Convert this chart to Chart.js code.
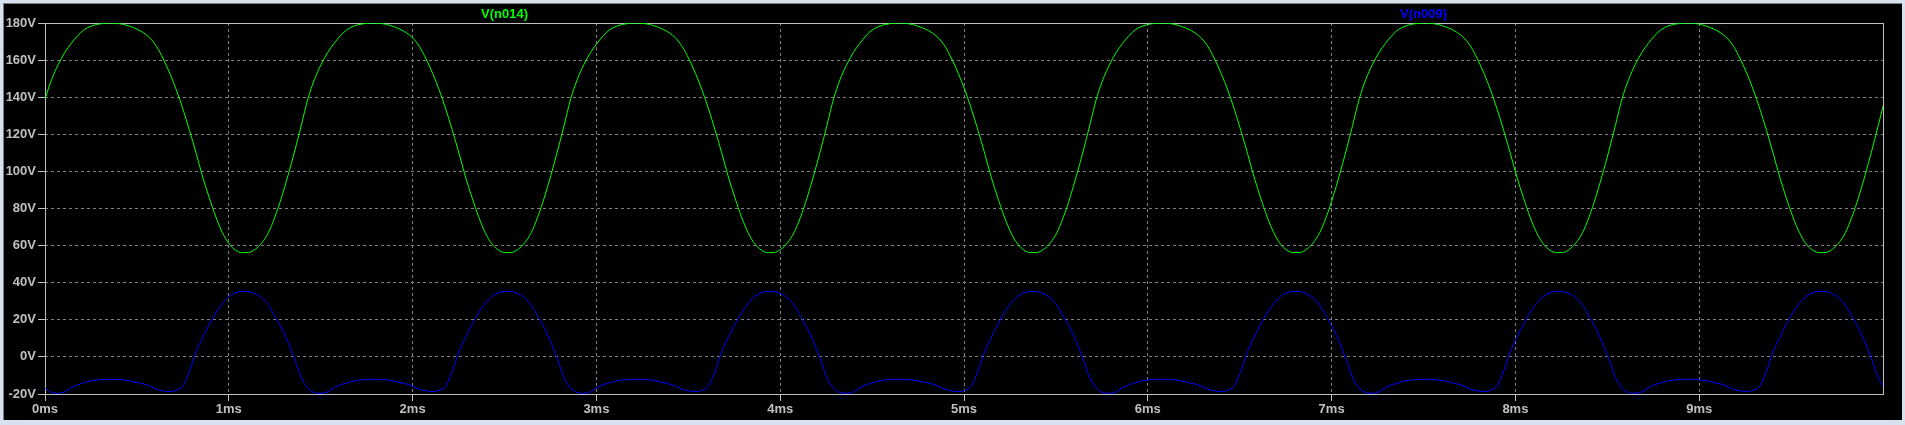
<!DOCTYPE html>
<html>
<head>
<meta charset="utf-8">
<script src="https://cdn.jsdelivr.net/npm/chart.js@4/dist/chart.umd.min.js"></script>
<style>
  html, body { margin: 0; padding: 0; background: #d8e2ee; width: 1905px; height: 425px; overflow: hidden; }
  #frame { position: absolute; left: 3px; top: 3px; width: 1898px; height: 416px; background: #000; border-top: 1px solid #7f7f7f; border-left: 1px solid #7f7f7f; }
  canvas { display: block; }
</style>
</head>
<body>
<div id="frame"><canvas id="c" width="1898" height="416"></canvas></div>
<script>
// Sampling step of the traces (ms); samples start at 0 ms
const sampleStepMs = 0.03575;

// Trace names and colours
const traceNames = ["V(n014)", "V(n009)"];
const traceColors = ["#00ff00", "#0000ff"];

// V(n014) in volts
const greenV = [
  139.0, 149.5, 157.5, 164.0, 169.0, 173.3, 176.5, 178.3, 179.3, 179.8,
  180, 179.8, 179.2, 178.1, 176.7, 174.7, 171.8, 167.2, 160.6, 152.8, 143.8, 133.5, 122.0, 109.8, 97.0, 85.8, 75.5, 67.0, 61.0, 57.6,
  56.2, 56.3, 58.0, 61.5, 67.0, 75.5, 86.0, 98.0, 111.0, 124.8, 139.0, 149.5, 157.5, 164.0, 169.0, 173.3, 176.5, 178.3, 179.3, 179.8,
  180, 179.8, 179.2, 178.1, 176.7, 174.7, 171.8, 167.2, 160.6, 152.8, 143.8, 133.5, 122.0, 109.8, 97.0, 85.8, 75.5, 67.0, 61.0, 57.6,
  56.2, 56.3, 58.0, 61.5, 67.0, 75.5, 86.0, 98.0, 111.0, 124.8, 139.0, 149.5, 157.5, 164.0, 169.0, 173.3, 176.5, 178.3, 179.3, 179.8,
  180, 179.8, 179.2, 178.1, 176.7, 174.7, 171.8, 167.2, 160.6, 152.8, 143.8, 133.5, 122.0, 109.8, 97.0, 85.8, 75.5, 67.0, 61.0, 57.6,
  56.2, 56.3, 58.0, 61.5, 67.0, 75.5, 86.0, 98.0, 111.0, 124.8, 139.0, 149.5, 157.5, 164.0, 169.0, 173.3, 176.5, 178.3, 179.3, 179.8,
  180, 179.8, 179.2, 178.1, 176.7, 174.7, 171.8, 167.2, 160.6, 152.8, 143.8, 133.5, 122.0, 109.8, 97.0, 85.8, 75.5, 67.0, 61.0, 57.6,
  56.2, 56.3, 58.0, 61.5, 67.0, 75.5, 86.0, 98.0, 111.0, 124.8, 139.0, 149.5, 157.5, 164.0, 169.0, 173.3, 176.5, 178.3, 179.3, 179.8,
  180, 179.8, 179.2, 178.1, 176.7, 174.7, 171.8, 167.2, 160.6, 152.8, 143.8, 133.5, 122.0, 109.8, 97.0, 85.8, 75.5, 67.0, 61.0, 57.6,
  56.2, 56.3, 58.0, 61.5, 67.0, 75.5, 86.0, 98.0, 111.0, 124.8, 139.0, 149.5, 157.5, 164.0, 169.0, 173.3, 176.5, 178.3, 179.3, 179.8,
  180, 179.8, 179.2, 178.1, 176.7, 174.7, 171.8, 167.2, 160.6, 152.8, 143.8, 133.5, 122.0, 109.8, 97.0, 85.8, 75.5, 67.0, 61.0, 57.6,
  56.2, 56.3, 58.0, 61.5, 67.0, 75.5, 86.0, 98.0, 111.0, 124.8, 139.0, 149.5, 157.5, 164.0, 169.0, 173.3, 176.5, 178.3, 179.3, 179.8,
  180, 179.8, 179.2, 178.1, 176.7, 174.7, 171.8, 167.2, 160.6, 152.8, 143.8, 133.5, 122.0, 109.8, 97.0, 85.8, 75.5, 67.0, 61.0, 57.6,
  56.2, 56.3, 58.0, 61.5, 67.0, 75.5, 86.0, 98.0, 111.0, 124.8, 139.0
];

// V(n009) in volts
const blueV = [
  -16.8, -19.2, -19.6, -18.9, -16.6, -15.0, -13.9, -12.9, -12.4, -12.2,
  -12.1, -12.2, -12.4, -13.0, -13.8, -14.6, -15.8, -17.5, -18.3, -18.7, -18.0, -15.6, -7.5, 2.8, 10.5, 17.5, 23.8, 28.8, 32.5, 34.6,
  35.3, 35.2, 34.0, 31.8, 27.8, 21.8, 15.5, 7.8, -1.2, -11.2, -16.8, -19.2, -19.6, -18.9, -16.6, -15.0, -13.9, -12.9, -12.4, -12.2,
  -12.1, -12.2, -12.4, -13.0, -13.8, -14.6, -15.8, -17.5, -18.3, -18.7, -18.0, -15.6, -7.5, 2.8, 10.5, 17.5, 23.8, 28.8, 32.5, 34.6,
  35.3, 35.2, 34.0, 31.8, 27.8, 21.8, 15.5, 7.8, -1.2, -11.2, -16.8, -19.2, -19.6, -18.9, -16.6, -15.0, -13.9, -12.9, -12.4, -12.2,
  -12.1, -12.2, -12.4, -13.0, -13.8, -14.6, -15.8, -17.5, -18.3, -18.7, -18.0, -15.6, -7.5, 2.8, 10.5, 17.5, 23.8, 28.8, 32.5, 34.6,
  35.3, 35.2, 34.0, 31.8, 27.8, 21.8, 15.5, 7.8, -1.2, -11.2, -16.8, -19.2, -19.6, -18.9, -16.6, -15.0, -13.9, -12.9, -12.4, -12.2,
  -12.1, -12.2, -12.4, -13.0, -13.8, -14.6, -15.8, -17.5, -18.3, -18.7, -18.0, -15.6, -7.5, 2.8, 10.5, 17.5, 23.8, 28.8, 32.5, 34.6,
  35.3, 35.2, 34.0, 31.8, 27.8, 21.8, 15.5, 7.8, -1.2, -11.2, -16.8, -19.2, -19.6, -18.9, -16.6, -15.0, -13.9, -12.9, -12.4, -12.2,
  -12.1, -12.2, -12.4, -13.0, -13.8, -14.6, -15.8, -17.5, -18.3, -18.7, -18.0, -15.6, -7.5, 2.8, 10.5, 17.5, 23.8, 28.8, 32.5, 34.6,
  35.3, 35.2, 34.0, 31.8, 27.8, 21.8, 15.5, 7.8, -1.2, -11.2, -16.8, -19.2, -19.6, -18.9, -16.6, -15.0, -13.9, -12.9, -12.4, -12.2,
  -12.1, -12.2, -12.4, -13.0, -13.8, -14.6, -15.8, -17.5, -18.3, -18.7, -18.0, -15.6, -7.5, 2.8, 10.5, 17.5, 23.8, 28.8, 32.5, 34.6,
  35.3, 35.2, 34.0, 31.8, 27.8, 21.8, 15.5, 7.8, -1.2, -11.2, -16.8, -19.2, -19.6, -18.9, -16.6, -15.0, -13.9, -12.9, -12.4, -12.2,
  -12.1, -12.2, -12.4, -13.0, -13.8, -14.6, -15.8, -17.5, -18.3, -18.7, -18.0, -15.6, -7.5, 2.8, 10.5, 17.5, 23.8, 28.8, 32.5, 34.6,
  35.3, 35.2, 34.0, 31.8, 27.8, 21.8, 15.5, 7.8, -1.2, -11.2, -16.8
];

// Axis ranges and tick spacing
const xRangeMs = [0, 10];
const xTickStepMs = 1;
const yRangeV = [-20, 180];
const yTickStepV = 20;

const timeMs = greenV.map((_, i) => +(i * sampleStepMs).toFixed(5));
const toXY = arr => arr.map((v, i) => ({ x: timeMs[i], y: v }));

const axisColor = '#c0c0c0';
const gridColor = '#808080';
const labelFont = { family: '"Liberation Sans", Arial, sans-serif', size: 13, weight: 'bold' };

const framePlugin = {
  id: 'ltFrame',
  beforeDatasetsDraw(chart) {
    const { ctx, chartArea: a } = chart;
    ctx.save();
    ctx.strokeStyle = axisColor;
    ctx.lineWidth = 1;
    ctx.setLineDash([]);
    const l = Math.round(a.left) + 0.5, t = Math.round(a.top) + 0.5;
    const r = Math.round(a.right) + 0.5, b = Math.round(a.bottom) + 0.5;
    ctx.strokeRect(l, t, r - l, b - t);
    ctx.restore();
  },
  afterDraw(chart) {
    const { ctx, chartArea: a } = chart;
    ctx.save();
    ctx.font = 'bold 13px "Liberation Sans", Arial, sans-serif';
    ctx.textAlign = 'center';
    ctx.textBaseline = 'middle';
    const fr = [0.25, 0.75];
    traceNames.forEach((name, i) => {
      ctx.fillStyle = traceColors[i];
      ctx.fillText(name, a.left + (a.right - a.left) * fr[i], a.top - 9);
    });
    ctx.restore();
  }
};

new Chart(document.getElementById('c'), {
  type: 'line',
  data: {
    datasets: [
      { label: traceNames[0], data: toXY(greenV), borderColor: traceColors[0], borderWidth: 1, pointRadius: 0, cubicInterpolationMode: 'monotone', fill: false },
      { label: traceNames[1], data: toXY(blueV), borderColor: traceColors[1], borderWidth: 1, pointRadius: 0, cubicInterpolationMode: 'monotone', fill: false }
    ]
  },
  options: {
    responsive: false,
    animation: false,
    devicePixelRatio: 1,
    layout: { padding: { top: 19, right: 19, left: 0, bottom: 0 } },
    plugins: { legend: { display: false }, tooltip: { enabled: false } },
    scales: {
      x: {
        type: 'linear', min: xRangeMs[0], max: xRangeMs[1],
        afterFit(s) { s.height = 26; },
        afterBuildTicks(s) { s.ticks = s.ticks.filter(t => t.value < xRangeMs[1]); },
        ticks: { stepSize: xTickStepMs, color: axisColor, font: labelFont, padding: 1, maxRotation: 0, autoSkip: false, callback: v => v + 'ms' },
        grid: { color: gridColor, lineWidth: 1, tickLength: 7, tickColor: axisColor, tickWidth: 1, tickBorderDash: [] },
        border: { display: false, dash: [3, 3] }
      },
      y: {
        type: 'linear', min: yRangeV[0], max: yRangeV[1],
        afterFit(s) { s.width = 41; },
        ticks: { stepSize: yTickStepV, color: axisColor, font: labelFont, padding: 2, callback: v => v + 'V' },
        grid: { color: gridColor, lineWidth: 1, tickLength: 7, tickColor: axisColor, tickWidth: 1, tickBorderDash: [] },
        border: { display: false, dash: [3, 3] }
      }
    }
  },
  plugins: [framePlugin]
});
</script>
</body>
</html>
